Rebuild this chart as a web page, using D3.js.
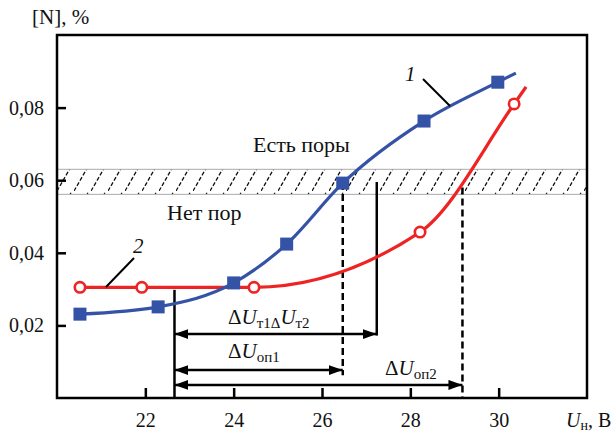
<!DOCTYPE html>
<html>
<head>
<meta charset="utf-8">
<script src="https://cdn.jsdelivr.net/npm/d3@7"></script>
<style>
  body { margin: 0; background: #fff; }
</style>
</head>
<body>
<div id="chart-area"></div>
<script>
// values
const xTicks = [22, 24, 26, 28, 30];
const yTicks = [0.02, 0.04, 0.06, 0.08];

// curve 1 (blue squares)
const s1U = [20.52, 22.29, 24.0, 25.2, 26.47, 28.31, 29.98];
const s1N = [0.0231, 0.0251, 0.0317, 0.0424, 0.0592, 0.0763, 0.087];
const s1EndU = 30.39, s1EndN = 0.0895;

// curve 2 (red open circles)
const s2U = [20.52, 21.92, 24.46, 28.22, 30.35];
const s2N = [0.0305, 0.0305, 0.0305, 0.0457, 0.081];
const s2EndU = 30.62, s2EndN = 0.0857;

// pore threshold band
const bandLow = 0.0561, bandHigh = 0.063;

const MARGINS = { top: 35, right: 27, left: 57, bottom: 35 };
const WIDTH = 614, HEIGHT = 433;
const CHART_WIDTH = WIDTH - MARGINS.left - MARGINS.right;
const CHART_HEIGHT = HEIGHT - MARGINS.top - MARGINS.bottom;

const BLUE = "#3553a6";
const RED = "#ee2424";
const FONT = "'Liberation Serif', 'Times New Roman', Times, 'DejaVu Serif', serif";

const svg = d3.select("#chart-area").append("svg")
  .attr("width", WIDTH)
  .attr("height", HEIGHT)
  .style("font-family", FONT);

const defs = svg.append("defs");
const pat = defs.append("pattern")
  .attr("id", "hatch")
  .attr("patternUnits", "userSpaceOnUse")
  .attr("width", 17).attr("height", 26);
pat.append("line")
  .attr("x1", 0).attr("y1", 26).attr("x2", 15).attr("y2", 0)
  .attr("stroke", "#111").attr("stroke-width", 1.3)
  .attr("stroke-dasharray", "4,2");

defs.append("marker")
  .attr("id", "arrow")
  .attr("viewBox", "0 0 14 10")
  .attr("refX", 14).attr("refY", 5)
  .attr("markerWidth", 14).attr("markerHeight", 10)
  .attr("markerUnits", "userSpaceOnUse")
  .attr("orient", "auto-start-reverse")
  .append("path")
  .attr("d", "M0,0 L14,5 L0,10 Z")
  .attr("fill", "#000");

const g = svg.append("g")
  .attr("transform", `translate(${MARGINS.left}, ${MARGINS.top})`);

const x = d3.scaleLinear().domain([20, 32]).range([0, CHART_WIDTH]);
const y = d3.scaleLinear().domain([0, 0.1]).range([CHART_HEIGHT, 0]);

// hatched band
g.append("rect")
  .attr("x", 0).attr("width", CHART_WIDTH)
  .attr("y", y(bandHigh)).attr("height", y(bandLow) - y(bandHigh))
  .attr("fill", "url(#hatch)")
  .attr("stroke", "#aaa").attr("stroke-width", 1);

// axes (ticks pointing inward)
const xAxis = g.append("g")
  .attr("transform", `translate(0, ${CHART_HEIGHT})`)
  .call(d3.axisBottom(x).tickValues(xTicks).tickSize(-10).tickPadding(15));
const yAxis = g.append("g")
  .call(d3.axisLeft(y).tickValues(yTicks).tickSize(-9).tickPadding(13)
    .tickFormat(d => d3.format(".2f")(d).replace(".", ",")));
[xAxis, yAxis].forEach(a => {
  a.attr("font-family", null).attr("font-size", null);
  a.select(".domain").remove();
  a.selectAll(".tick line").attr("stroke", "#000").attr("stroke-width", 2.5);
  a.selectAll(".tick text").style("font-size", "20px")
    .style("font-family", FONT).attr("fill", "#111");
});

// annotation lines
const annot = g.append("g");
function vline(u, n0, n1, dashed) {
  annot.append("line")
    .attr("x1", x(u)).attr("x2", x(u))
    .attr("y1", y(n0)).attr("y2", y(n1))
    .attr("stroke", "#000").attr("stroke-width", 2.5)
    .attr("stroke-dasharray", dashed ? "7,4" : null);
}
vline(22.66, 0.0298, 0, false);
vline(27.24, 0.0595, 0.0172, false);
vline(26.47, 0.0592, 0.0063, true);
vline(29.18, 0.058, 0, true);

function arrow(u0, u1, n) {
  annot.append("line")
    .attr("x1", x(u0)).attr("x2", x(u1))
    .attr("y1", y(n)).attr("y2", y(n))
    .attr("stroke", "#000").attr("stroke-width", 2.5)
    .attr("marker-start", "url(#arrow)")
    .attr("marker-end", "url(#arrow)");
}
arrow(22.66, 27.24, 0.0176);
arrow(22.66, 26.47, 0.0077);
arrow(22.66, 29.18, 0.0036);

// curves
const line = d3.line().x(d => x(d[0])).y(d => y(d[1])).curve(d3.curveMonotoneX);
const s1 = s1U.map((u, i) => [u, s1N[i]]);
const s2 = s2U.map((u, i) => [u, s2N[i]]);

g.append("path")
  .datum(s2.concat([[s2EndU, s2EndN]]))
  .attr("d", line).attr("fill", "none")
  .attr("stroke", RED).attr("stroke-width", 3.2);
g.append("path")
  .datum(s1.concat([[s1EndU, s1EndN]]))
  .attr("d", line).attr("fill", "none")
  .attr("stroke", BLUE).attr("stroke-width", 3.2);

g.selectAll(".sq").data(s1).enter().append("rect")
  .attr("x", d => x(d[0]) - 6.5).attr("y", d => y(d[1]) - 6.5)
  .attr("width", 13).attr("height", 13)
  .attr("fill", BLUE);
g.selectAll(".ci").data(s2).enter().append("circle")
  .attr("cx", d => x(d[0])).attr("cy", d => y(d[1]))
  .attr("r", 5.2)
  .attr("fill", "#fff").attr("stroke", RED).attr("stroke-width", 2.6);

// frame
g.append("rect")
  .attr("width", CHART_WIDTH).attr("height", CHART_HEIGHT)
  .attr("fill", "none").attr("stroke", "#000").attr("stroke-width", 2.5);

function label(px, py, txt, size, italic) {
  return svg.append("text").attr("x", px).attr("y", py)
    .style("font-family", FONT).style("font-size", size + "px")
    .style("font-style", italic ? "italic" : null)
    .attr("fill", "#111").text(txt);
}

// curve labels with leaders
svg.append("line").attr("x1", 423).attr("y1", 79).attr("x2", 450).attr("y2", 106)
  .attr("stroke", "#000").attr("stroke-width", 2);
label(405, 81, "1", 21, true);
svg.append("line").attr("x1", 134).attr("y1", 258).attr("x2", 106).attr("y2", 287)
  .attr("stroke", "#000").attr("stroke-width", 2);
label(133, 253, "2", 21, true);

// region labels
label(253, 152, "Есть поры", 22);
label(167, 220, "Нет пор", 22);

// axis titles
label(32, 24, "[N], %", 21);
const xt = label(566, 427, "", 20);
xt.append("tspan").style("font-style", "italic").text("U");
xt.append("tspan").style("font-size", "14px").attr("dy", 3).text("н");
xt.append("tspan").attr("dy", -3).text(", B");

// delta labels
function deltaLabel(px, py, parts) {
  const t = label(px, py, "", 21);
  parts.forEach(p => {
    const s = t.append("tspan").text(p.t);
    if (p.i) s.style("font-style", "italic");
    if (p.sub) s.style("font-size", "15px").attr("dy", 4);
    if (p.up) s.attr("dy", -4);
  });
}
deltaLabel(228, 324, [{t: "Δ"}, {t: "U", i: true}, {t: "т1Δ", sub: true}, {t: "U", i: true, up: true}, {t: "т2", sub: true}]);
deltaLabel(228, 358, [{t: "Δ"}, {t: "U", i: true}, {t: "оп1", sub: true}]);
deltaLabel(385, 375, [{t: "Δ"}, {t: "U", i: true}, {t: "оп2", sub: true}]);
</script>
</body>
</html>
